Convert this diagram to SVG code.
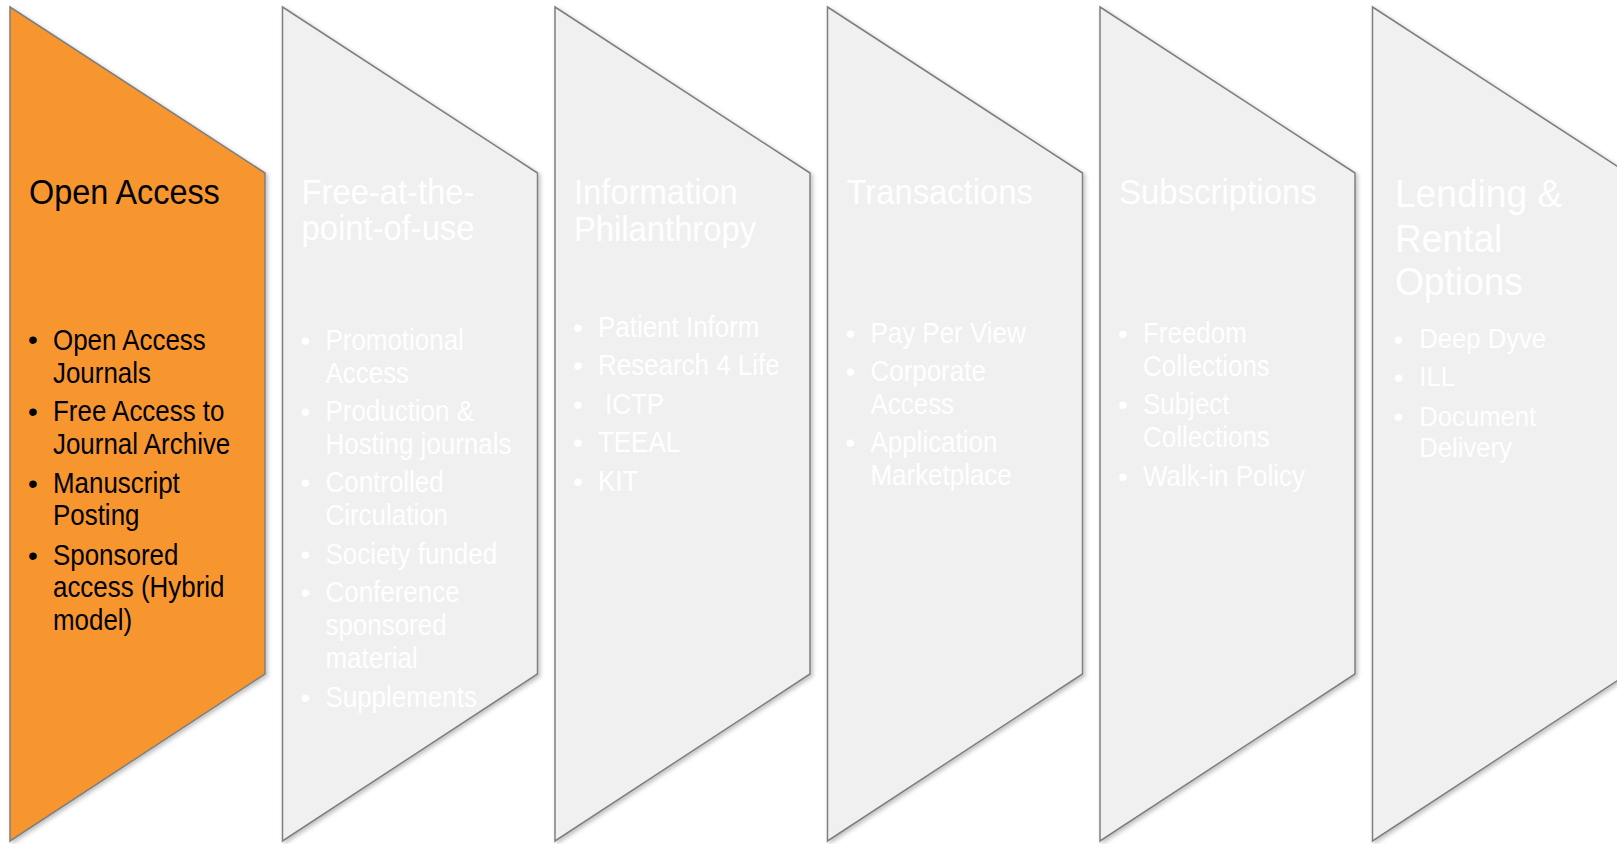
<svg xmlns="http://www.w3.org/2000/svg" width="1617" height="844" viewBox="0 0 1617 844">
<defs>
<filter id="sh" x="-5%" y="-5%" width="115%" height="115%">
<feDropShadow dx="2" dy="2" stdDeviation="2" flood-color="#000" flood-opacity="0.25"/>
</filter>
<path id="chev" d="M0,7 L255,173 L255,674 L0,841 Z"/>
</defs>
<style>
.shape{stroke:#7f7f7f;stroke-width:1.5;stroke-linejoin:miter;filter:url(#sh)}
.orange{fill:#f7962f}
.gray{fill:#f0f0f0}
text{font-family:"Liberation Sans",Arial,sans-serif}
.t{font-size:36px}
.t6{font-size:39.5px}
.b{font-size:30px}
.b6{font-size:28px}
.dot{font-size:28px;text-anchor:middle}
.dk{fill:#000}
.lt{fill:#ffffff}
</style>
<rect width="1617" height="844" fill="#ffffff"/>
<g id="connectors"></g>

<g id="node-open-access" transform="translate(10,0)">
<use href="#chev" class="shape orange"/>
<g transform="scale(0.9,1)"><text class="t dk" x="21.1" y="204">Open Access</text></g>
<g class="dk">
<text class="dot" x="23" y="349">•</text>
<text class="dot" x="23" y="421">•</text>
<text class="dot" x="23" y="492.5">•</text>
<text class="dot" x="23" y="564.5">•</text>
</g>
<g class="b dk" transform="scale(0.865,1)">
<text x="49.7" y="350.5">Open Access<tspan x="49.7" dy="32.5">Journals</tspan></text>
<text x="49.7" y="421.5">Free Access to<tspan x="49.7" dy="32.5">Journal Archive</tspan></text>
<text x="49.7" y="493">Manuscript<tspan x="49.7" dy="32.5">Posting</tspan></text>
<text x="49.7" y="565">Sponsored<tspan x="49.7" dy="32.5">access (Hybrid</tspan><tspan x="49.7" dy="32.5">model)</tspan></text>
</g>
</g>

<g id="node-free-at-the-point-of-use" transform="translate(282.5,0)">
<use href="#chev" class="shape gray"/>
<g class="t lt" transform="scale(0.91,1)">
<text x="20.9" y="204">Free-at-the-<tspan x="20.9" dy="36">point-of-use</tspan></text>
</g>
<g class="lt">
<text class="dot" x="23" y="349.5">•</text>
<text class="dot" x="23" y="420.5">•</text>
<text class="dot" x="23" y="492">•</text>
<text class="dot" x="23" y="563.5">•</text>
<text class="dot" x="23" y="602">•</text>
<text class="dot" x="23" y="706.5">•</text>
</g>
<g class="b lt" transform="scale(0.865,1)">
<text x="49.7" y="350">Promotional<tspan x="49.7" dy="33">Access</tspan></text>
<text x="49.7" y="421">Production &amp;<tspan x="49.7" dy="33">Hosting journals</tspan></text>
<text x="49.7" y="492.5">Controlled<tspan x="49.7" dy="33">Circulation</tspan></text>
<text x="49.7" y="564">Society funded</text>
<text x="49.7" y="602.5">Conference<tspan x="49.7" dy="33">sponsored</tspan><tspan x="49.7" dy="32.5">material</tspan></text>
<text x="49.7" y="707">Supplements</text>
</g>
</g>

<g id="node-information-philanthropy" transform="translate(555,0)">
<use href="#chev" class="shape gray"/>
<g class="t lt" transform="scale(0.91,1)">
<text x="20.9" y="204">Information<tspan x="20.9" dy="37">Philanthropy</tspan></text>
</g>
<g class="lt">
<text class="dot" x="23" y="336.5">•</text>
<text class="dot" x="23" y="375">•</text>
<text class="dot" x="23" y="413.5">•</text>
<text class="dot" x="23" y="452">•</text>
<text class="dot" x="23" y="491">•</text>
</g>
<g class="b lt" transform="scale(0.865,1)">
<text x="49.7" y="337">Patient Inform</text>
<text x="49.7" y="375.5">Research 4 Life</text>
<text x="57.8" y="414">ICTP</text>
<text x="49.7" y="452.5">TEEAL</text>
<text x="49.7" y="491.5">KIT</text>
</g>
</g>

<g id="node-transactions" transform="translate(827.5,0)">
<use href="#chev" class="shape gray"/>
<g class="t lt" transform="scale(0.91,1)">
<text x="20.9" y="204">Transactions</text>
</g>
<g class="lt">
<text class="dot" x="23" y="342.5">•</text>
<text class="dot" x="23" y="381">•</text>
<text class="dot" x="23" y="452">•</text>
</g>
<g class="b lt" transform="scale(0.865,1)">
<text x="49.7" y="343">Pay Per View</text>
<text x="49.7" y="381.5">Corporate<tspan x="49.7" dy="32.5">Access</tspan></text>
<text x="49.7" y="452.5">Application<tspan x="49.7" dy="33">Marketplace</tspan></text>
</g>
</g>

<g id="node-subscriptions" transform="translate(1100,0)">
<use href="#chev" class="shape gray"/>
<g class="t lt" transform="scale(0.915,1)">
<text x="20.8" y="204">Subscriptions</text>
</g>
<g class="lt">
<text class="dot" x="23" y="342.5">•</text>
<text class="dot" x="23" y="413.5">•</text>
<text class="dot" x="23" y="485.5">•</text>
</g>
<g class="b lt" transform="scale(0.865,1)">
<text x="49.7" y="343">Freedom<tspan x="49.7" dy="33">Collections</tspan></text>
<text x="49.7" y="414">Subject<tspan x="49.7" dy="33">Collections</tspan></text>
<text x="49.7" y="486">Walk-in Policy</text>
</g>
</g>

<g id="node-lending-rental-options" transform="translate(1372.5,0)">
<use href="#chev" class="shape gray"/>
<g class="t6 lt" transform="scale(0.94,1)">
<text x="23.9" y="207">Lending &amp;<tspan x="23.9" dy="45.5">Rental</tspan><tspan x="23.9" dy="43">Options</tspan></text>
</g>
<g class="lt">
<text class="dot" x="25.8" y="348.5">•</text>
<text class="dot" x="25.8" y="386.5">•</text>
<text class="dot" x="25.8" y="425.5">•</text>
</g>
<g class="b6 lt" transform="scale(0.915,1)">
<text x="51.2" y="348.5">Deep Dyve</text>
<text x="51.2" y="386.5">ILL</text>
<text x="51.2" y="426">Document<tspan x="51.2" dy="31.5">Delivery</tspan></text>
</g>
</g>
</svg>
